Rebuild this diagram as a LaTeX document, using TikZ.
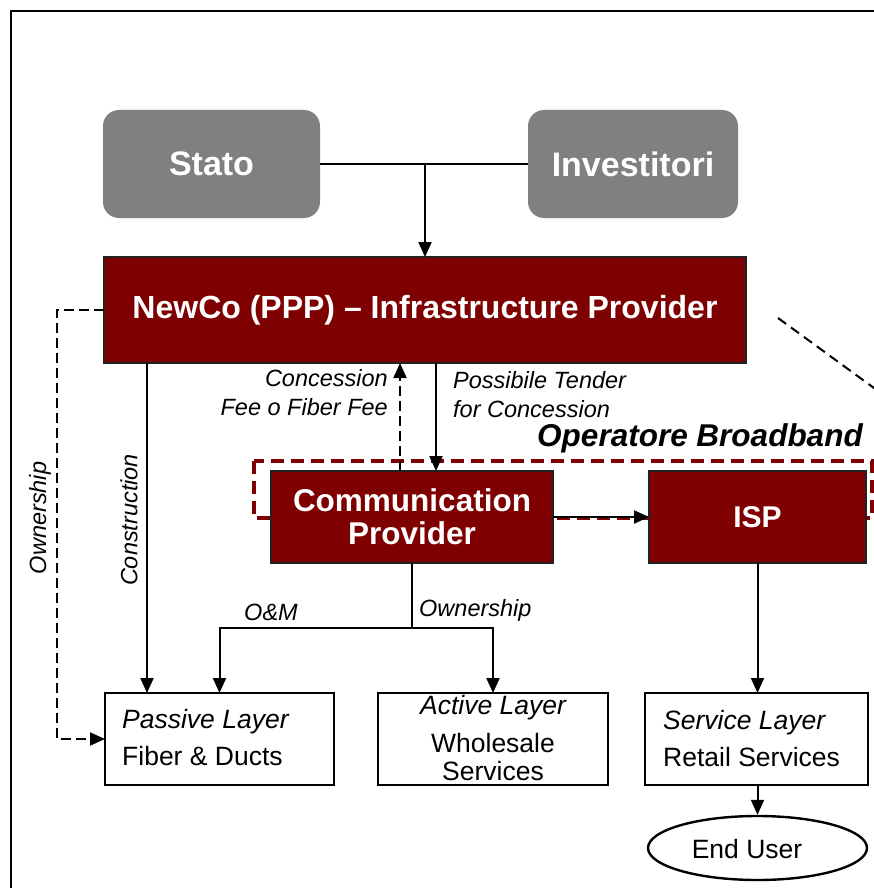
\documentclass[tikz,border=0pt]{standalone}
\usepackage{fontspec}
\setmainfont{Liberation Sans}
\usetikzlibrary{arrows.meta,shapes.geometric}
\definecolor{dred}{HTML}{7F0000}
\definecolor{gbox}{HTML}{808080}
\definecolor{bord}{HTML}{222222}
\begin{document}
\begin{tikzpicture}[x=1pt,y=-1pt,
  conn/.style={line width=2pt,draw=black},
  arr/.style={conn,-{Triangle[length=15pt,width=13pt]}},
  darr/.style={arr,dash pattern=on 10pt off 5pt},
  graybox/.style={fill=gbox,rounded corners=16pt,inner sep=0pt,outer sep=0pt,text=white,font=\fontsize{34}{40}\selectfont\bfseries},
  redbox/.style={fill=dred,draw=bord,line width=2.5pt,inner sep=0pt,outer sep=0pt,text=white,align=center},
  layerbox/.style={draw=black,line width=2.4pt,fill=white,inner sep=0pt,outer sep=0pt},
  lbl/.style={inner sep=0pt,font=\fontsize{23.5}{29}\selectfont\itshape},
  ltxt/.style={inner sep=0pt,font=\fontsize{26.5}{34}\selectfont}]
\useasboundingbox (0,0) rectangle (874,888);
\clip (0,0) rectangle (874,888);
\draw[line width=2pt] (11,11) rectangle (1000,1000);

% dashed operator box
\draw[dred,line width=3.5pt,dash pattern=on 13pt off 7pt] (254,461) rectangle (872,518);

% boxes
\node[graybox,minimum width=217pt,minimum height=108pt] (stato) at (211.5,164) {Stato};
\node[graybox,minimum width=210pt,minimum height=108pt] (inv) at (633,164) {Investitori};
\node[redbox,minimum width=642pt,minimum height=106pt,font=\fontsize{32}{38}\selectfont\bfseries] (newco) at (425,310) {NewCo (PPP) -- Infrastructure Provider};
\node[redbox,minimum width=282pt,minimum height=92pt,font=\fontsize{31.5}{33}\selectfont\bfseries] (comm) at (412,517) {Communication\\Provider};
\node[redbox,minimum width=217pt,minimum height=92pt,font=\fontsize{30}{36}\selectfont\bfseries] (isp) at (757.5,517) {ISP};
\node[layerbox,minimum width=229pt,minimum height=92pt] (pass) at (219.5,739) {};
\node[layerbox,minimum width=230pt,minimum height=92pt] (act) at (493,739) {};
\node[layerbox,minimum width=223pt,minimum height=92pt] (serv) at (756.5,739) {};
\node[draw=black,line width=2.4pt,ellipse,inner sep=0pt,minimum width=219pt,minimum height=64pt] (eu) at (757.5,848) {};

% texts in layer boxes
\node[ltxt,anchor=west] (p1) at (122,722) {\itshape Passive Layer};
\node[ltxt,anchor=west] (p2) at (122,756) {Fiber \& Ducts};
\node[ltxt] (a1) at (493,708) {\itshape Active Layer};
\node[ltxt] (a2) at (493,743) {Wholesale};
\node[ltxt] (a3) at (493,771) {Services};
\node[ltxt,anchor=west] (s1) at (663,723) {\itshape Service Layer};
\node[ltxt,anchor=west] (s2) at (663,757) {Retail Services};
\node[ltxt] (eut) at (747,849) {End User};

% labels
\node[inner sep=0pt,font=\fontsize{31.5}{36}\selectfont\bfseries\itshape] (ob) at (700,438) {Operatore Broadband};
\node[lbl,anchor=east] (c1) at (388,378) {Concession};
\node[lbl,anchor=east] (c2) at (388,407) {Fee o Fiber Fee};
\node[lbl,anchor=west] (t1) at (453,380) {Possibile Tender};
\node[lbl,anchor=west] (t2) at (453,409) {for Concession};
\node[lbl] (om) at (271,612) {O\&M};
\node[lbl,anchor=west] (ow) at (419,610) {Ownership};
\node[lbl,rotate=90] (own) at (40,518) {Ownership};
\node[lbl,rotate=90] (cons) at (129,520) {Construction};

% connectors
\coordinate (j) at (425,164);
\coordinate (cx) at (147,0);
\coordinate (cc) at (400,0);
\coordinate (tc) at (436,0);
\coordinate (br) at (412,628);
\draw[conn] (stato.east) -- (inv.west);
\draw[arr] (j) -- (newco.north);
\draw[darr] (newco.west) -- ++(-47,0) |- (pass.west);
\draw[arr] (newco.south -| cx) -- (pass.north -| cx);
\draw[darr] (comm.north -| cc) -- (newco.south -| cc);
\draw[arr] (newco.south -| tc) -- (comm.north -| tc);
\draw[arr] (comm.east) -- (isp.west);
\draw[conn] (comm.south) -- (br);
\draw[arr] (br) -| (pass.north);
\draw[arr] (br) -| (act.north);
\draw[arr] (isp.south) -- (isp.south |- serv.north);
\draw[arr] (serv.south -| isp.south) -- (eu.north -| isp.south);
\coordinate (dg) at (900,407);
\draw[conn,dash pattern=on 10pt off 6pt] (778,318) -- (dg);
\end{tikzpicture}
\end{document}
